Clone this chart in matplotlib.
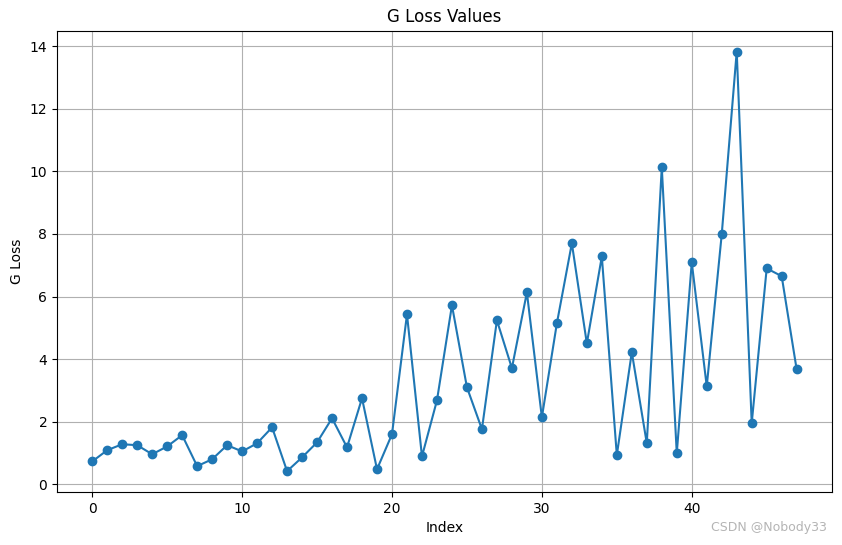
import matplotlib
matplotlib.use("Agg")
import matplotlib.pyplot as plt

# G loss values
g_loss = [0.73, 1.09, 1.28, 1.25, 0.96, 1.21, 1.57, 0.58, 0.80, 1.25,
          1.05, 1.31, 1.82, 0.42, 0.86, 1.34, 2.11, 1.18, 2.75, 0.48,
          1.60, 5.43, 0.89, 2.68, 5.72, 3.10, 1.76, 5.24, 3.71, 6.13,
          2.14, 5.14, 7.70, 4.50, 7.28, 0.93, 4.22, 1.31, 10.13, 0.99,
          7.09, 3.13, 7.99, 13.83, 1.95, 6.90, 6.65, 3.67]
index = list(range(len(g_loss)))

fig = plt.figure(figsize=(8.42, 5.45), dpi=100)
ax = fig.add_subplot(111)
fig.subplots_adjust(left=0.0677, right=0.988, top=0.944, bottom=0.097)

ax.plot(index, g_loss, marker="o", color="#1f77b4")
ax.set_title("G Loss Values")
ax.set_xlabel("Index")
ax.set_ylabel("G Loss")
ax.grid(True)

# watermark
fig.text(0.982, 0.033, "CSDN @Nobody33", ha="right", va="center",
         color="#b4b4b4", fontsize=9)

fig.savefig("out.png", dpi=100)
